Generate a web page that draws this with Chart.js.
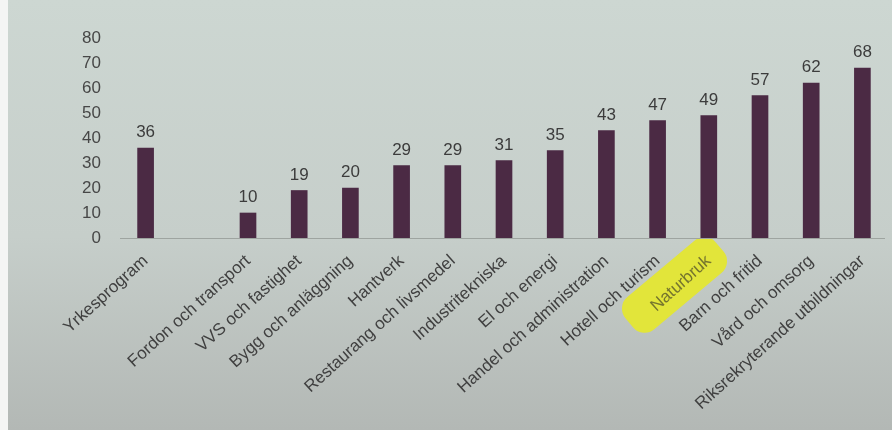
<!DOCTYPE html>
<html>
<head>
<meta charset="utf-8">
<script src="https://cdn.jsdelivr.net/npm/chart.js@4/dist/chart.umd.min.js"></script>
<style>
  html, body { margin: 0; padding: 0; background: #c9d1cd; }
  #wrap { position: relative; width: 892px; height: 430px; }
</style>
</head>
<body>
<div id="wrap"><canvas id="c" width="892" height="430"></canvas></div>
<script>
const categories = [
  "Yrkesprogram", "", "Fordon och transport", "VVS och fastighet", "Bygg och anläggning",
  "Hantverk", "Restaurang och livsmedel", "Industritekniska", "El och energi",
  "Handel och administration", "Hotell och turism", "Naturbruk", "Barn och fritid",
  "Vård och omsorg", "Riksrekryterande utbildningar"
];
const values = [36, null, 10, 19, 20, 29, 29, 31, 35, 43, 47, 49, 57, 62, 68];
const yTicks = [0, 10, 20, 30, 40, 50, 60, 70, 80];
const highlighted = "Naturbruk";

const FONT = "'Liberation Sans', Arial, sans-serif";

const bgPlugin = {
  id: 'bg',
  beforeDraw(chart) {
    const ctx = chart.ctx;
    const w = chart.width, h = chart.height;
    ctx.save();
    const g = ctx.createLinearGradient(0, 0, 0, h);
    g.addColorStop(0, '#cdd7d2');
    g.addColorStop(0.55, '#c6ceca');
    g.addColorStop(1, '#b3b8b5');
    ctx.fillStyle = g;
    ctx.fillRect(0, 0, w, h);
    ctx.fillStyle = '#f4f5f4';
    ctx.fillRect(0, 0, 8, h);
    // marker highlight behind highlighted label
    const idx = categories.indexOf(highlighted);
    const xs = chart.scales.x;
    const tx = xs.getPixelForValue(idx);
    const cx = tx - 32, cy = 283;
    ctx.translate(cx, cy);
    ctx.rotate(-40 * Math.PI / 180);
    ctx.fillStyle = '#e2e53a';
    ctx.beginPath();
    ctx.roundRect(-62, -21, 118, 42, 15);
    ctx.fill();
    ctx.restore();
  }
};

const axisLinePlugin = {
  id: 'axisLine',
  beforeDatasetsDraw(chart) {
    const ctx = chart.ctx;
    const a = chart.chartArea;
    const y = chart.scales.y.getPixelForValue(0);
    ctx.save();
    ctx.strokeStyle = '#9ea4a0';
    ctx.lineWidth = 1.2;
    ctx.beginPath();
    ctx.moveTo(a.left, y + 0.5);
    ctx.lineTo(a.right - 3, y + 0.5);
    ctx.stroke();
    ctx.restore();
  }
};

const labelPlugin = {
  id: 'valueLabels',
  afterDatasetsDraw(chart) {
    const ctx = chart.ctx;
    const meta = chart.getDatasetMeta(0);
    ctx.save();
    ctx.font = '17px ' + FONT;
    ctx.fillStyle = '#3c3c3c';
    ctx.textAlign = 'center';
    ctx.textBaseline = 'alphabetic';
    meta.data.forEach((bar, i) => {
      const v = values[i];
      if (v === null) return;
      ctx.fillText(String(v), bar.x, bar.y - 11);
    });
    ctx.restore();
  }
};

new Chart(document.getElementById('c'), {
  type: 'bar',
  data: {
    labels: categories,
    datasets: [{
      data: values,
      backgroundColor: '#4b2a44',
      borderWidth: 0,
      barThickness: 16
    }]
  },
  options: {
    responsive: false,
    animation: false,
    events: [],
    layout: { padding: { top: 38, right: 4, left: 0, bottom: 0 } },
    plugins: { legend: { display: false }, tooltip: { enabled: false } },
    scales: {
      x: {
        grid: { display: false, drawTicks: false },
        border: { display: false },
        afterFit(scale) { scale.height = 430 - 238; },
        ticks: {
          autoSkip: false,
          maxRotation: 42,
          minRotation: 42,
          padding: 13,
          font: { size: 17, family: FONT },
          color: (c) => categories[c.index] === highlighted ? '#75752e' : '#404040'
        }
      },
      y: {
        min: 0,
        max: 80,
        grid: { display: false, drawTicks: false },
        border: { display: false },
        afterFit(scale) { scale.width = 120; },
        afterBuildTicks(scale) { scale.ticks = yTicks.map(v => ({ value: v })); },
        ticks: {
          padding: 19,
          font: { size: 17, family: FONT },
          color: '#474747'
        }
      }
    }
  },
  plugins: [bgPlugin, axisLinePlugin, labelPlugin]
});
</script>
</body>
</html>
